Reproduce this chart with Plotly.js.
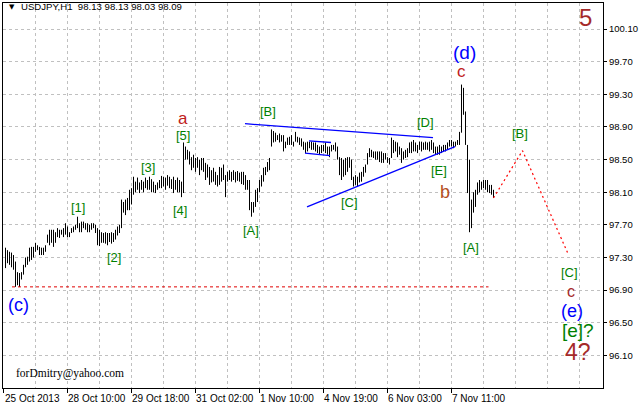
<!DOCTYPE html>
<html>
<head>
<meta charset="utf-8">
<script src="https://cdn.plot.ly/plotly-3.0.1.min.js"></script>
<style>html,body{margin:0;padding:0;background:#fff;}#chart{width:639px;height:404px;}</style>
</head>
<body>
<div id="chart"></div>
<script>
// ---- DATA (USDJPY H1) ----
const symbolTitle = "USDJPY,H1  98.13 98.13 98.03 98.09";
const highs = [
97.42,97.39,97.37,97.36,97.33,97.25,97.12,97.11,97.12,97.21,
97.30,97.31,97.42,97.43,97.43,97.48,97.45,97.43,97.42,97.42,
97.45,97.58,97.64,97.64,97.64,97.61,97.66,97.64,97.64,97.66,
97.72,97.68,97.61,97.66,97.68,97.70,97.80,97.72,97.74,97.74,
97.72,97.72,97.70,97.72,97.72,97.70,97.66,97.64,97.61,97.60,
97.61,97.60,97.60,97.61,97.60,97.64,97.68,97.70,98.01,97.98,
98.01,98.03,98.13,98.15,98.29,98.23,98.28,98.22,98.25,98.23,
98.28,98.25,98.29,98.26,98.23,98.19,98.22,98.25,98.30,98.29,
98.28,98.31,98.29,98.26,98.29,98.25,98.28,98.25,98.23,98.71,
98.66,98.62,98.60,98.53,98.56,98.52,98.53,98.50,98.52,98.52,
98.46,98.44,98.41,98.37,98.40,98.35,98.31,98.41,98.40,98.44,
98.31,98.35,98.37,98.35,98.37,98.35,98.36,98.34,98.35,98.35,
98.31,98.25,98.25,97.98,97.98,98.13,98.15,98.25,98.31,98.40,
98.41,98.47,98.52,98.87,98.85,98.83,98.80,98.82,98.80,98.80,
98.72,98.77,98.78,98.80,98.72,98.84,98.78,98.77,98.76,98.72,
98.71,98.72,98.72,98.72,98.71,98.71,98.68,98.66,98.68,98.68,
98.71,98.66,98.66,98.68,98.68,98.71,98.66,98.53,98.52,98.50,
98.52,98.53,98.53,98.50,98.29,98.31,98.29,98.34,98.35,98.41,
98.44,98.58,98.64,98.62,98.60,98.60,98.60,98.60,98.60,98.58,
98.58,98.53,98.52,98.77,98.74,98.72,98.71,98.66,98.64,98.60,
98.62,98.64,98.71,98.72,98.74,98.71,98.68,98.72,98.72,98.71,
98.72,98.71,98.72,98.74,98.71,98.66,98.66,98.68,98.66,98.68,
98.68,98.71,98.74,98.74,98.72,98.72,98.74,98.84,99.42,99.38,
99.09,98.68,98.50,98.01,98.10,98.13,98.22,98.25,98.23,98.25,
98.25,98.25,98.19,98.19,98.13
];
const lows = [
97.17,97.23,97.21,97.18,97.15,96.94,96.96,96.94,97.03,97.09,
97.18,97.21,97.25,97.27,97.30,97.37,97.39,97.33,97.33,97.33,
97.37,97.48,97.45,97.48,97.43,97.48,97.55,97.54,97.58,97.55,
97.58,97.55,97.55,97.60,97.61,97.64,97.66,97.61,97.61,97.66,
97.64,97.61,97.61,97.64,97.66,97.60,97.45,97.44,97.48,97.48,
97.47,97.45,97.49,97.47,97.49,97.52,97.57,97.60,97.66,97.85,
97.82,97.88,97.88,97.95,98.07,98.10,98.13,98.09,98.13,98.10,
98.15,98.13,98.13,98.10,98.10,98.09,98.13,98.15,98.15,98.17,
98.13,98.18,98.15,98.14,98.09,98.13,98.10,98.10,98.04,98.09,
98.50,98.50,98.44,98.37,98.40,98.35,98.40,98.31,98.37,98.35,
98.25,98.28,98.19,98.22,98.23,98.19,98.17,98.19,98.23,98.25,
98.04,98.23,98.25,98.23,98.25,98.22,98.24,98.23,98.20,98.19,
98.13,98.13,97.88,97.80,97.85,97.92,97.98,98.10,98.17,98.23,
98.31,98.35,98.37,98.66,98.71,98.72,98.74,98.71,98.72,98.60,
98.64,98.68,98.68,98.68,98.66,98.72,98.71,98.68,98.66,98.62,
98.58,98.60,98.64,98.62,98.62,98.60,98.58,98.56,98.58,98.60,
98.58,98.56,98.53,98.60,98.62,98.60,98.50,98.31,98.25,98.29,
98.31,98.35,98.40,98.25,98.17,98.19,98.17,98.22,98.23,98.29,
98.34,98.44,98.53,98.53,98.52,98.50,98.50,98.47,98.46,98.46,
98.50,98.46,98.44,98.52,98.58,98.60,98.53,98.56,98.46,98.50,
98.52,98.53,98.58,98.58,98.60,98.60,98.58,98.62,98.60,98.62,
98.62,98.62,98.60,98.62,98.58,98.56,98.56,98.56,98.58,98.60,
98.60,98.62,98.66,98.66,98.64,98.66,98.68,98.68,98.83,99.05,
98.68,98.09,97.61,97.66,97.85,97.92,98.07,98.10,98.13,98.15,
98.13,98.10,98.09,98.07,98.03
];
// time-axis labels (bar index of each label)
const timeLabelBars = [-1, 31, 63, 95, 127, 159, 191, 223];
const timeLabels = ["25 Oct 2013","28 Oct 10:00","29 Oct 18:00","31 Oct 02:00","1 Nov 10:00","4 Nov 19:00","6 Nov 03:00","7 Nov 11:00"];
const priceTicks = [96.10, 96.50, 96.90, 97.30, 97.70, 98.10, 98.50, 98.90, 99.30, 99.70, 100.10];
// trend lines (bar index, price)
const triUpperBars = [119.75, 213.75], triUpperPrices = [98.94, 98.77];
const triLowerBars = [150.75, 224.75], triLowerPrices = [97.92, 98.66];
const chanUpperBars = [151.75, 162.75], chanUpperPrices = [98.73, 98.71];
const chanLowerBars = [149.75, 162.25], chanLowerPrices = [98.58, 98.55];
const levelBars = [3.25, 241.5], levelPrices = [96.94, 96.94];
const forecastBars = [244, 258.5, 281], forecastPrices = [98.03, 98.61, 97.36];
// wave labels
const waveText = ["(c)","[1]","[2]","[3]","[4]","[5]","a","[A]","[B]","[C]","[D]","[E]","b","(d)","c","[B]","[A]","[C]","c","(e)","[e]?","4?","5"];
const waveBars = [6.25,36.25,54.25,71.25,87.25,88.75,88.75,122.75,131.25,171.75,209.75,216.75,219.75,229.25,227.75,257.25,232.75,281.75,282.75,283.25,286.25,286.25,289.75];
const wavePrices = [96.72,97.91,97.30,98.40,97.88,98.79,99.00,97.63,99.09,97.98,98.95,98.37,98.10,99.81,99.58,98.82,97.42,97.11,96.88,96.64,96.40,96.14,100.24];

// ---- styles ----
const BLUE="#0000ff", GREEN="#008000", DRED="#a52a2a", RED="#c0201a", BROWN="#b5501e";
const waveStyle = [
 [BLUE,18],[GREEN,13],[GREEN,13],[GREEN,13],[GREEN,13],[GREEN,13],[RED,17],[GREEN,13],[GREEN,13],[GREEN,13],[GREEN,13],[GREEN,13],[BROWN,18],
 [BLUE,19],[RED,17],[GREEN,13],[GREEN,13],[GREEN,13],[DRED,16],[BLUE,18],[GREEN,19],[DRED,23],[DRED,24]
];

const bx=[], by=[];
for (let i=0;i<highs.length;i++){ bx.push(i,i,null); by.push(lows[i],highs[i],null); }

const traces = [
 {x:bx,y:by,type:'scatter',mode:'lines',line:{color:'#000',width:1},hoverinfo:'skip'},
 {x:triUpperBars,y:triUpperPrices,type:'scatter',mode:'lines',line:{color:BLUE,width:1.3}},
 {x:triLowerBars,y:triLowerPrices,type:'scatter',mode:'lines',line:{color:BLUE,width:1.3}},
 {x:chanUpperBars,y:chanUpperPrices,type:'scatter',mode:'lines',line:{color:BLUE,width:1.3}},
 {x:chanLowerBars,y:chanLowerPrices,type:'scatter',mode:'lines',line:{color:BLUE,width:1.3}},
 {x:levelBars,y:levelPrices,type:'scatter',mode:'lines',line:{color:'#e00000',width:1,dash:'3px,3px'}},
 {x:forecastBars,y:forecastPrices,type:'scatter',mode:'lines',line:{color:'#ff0000',width:1.2,dash:'2px,3px'}}
];

const F = "Liberation Sans, Arial, sans-serif";
const annotations = waveText.map((t,k)=>({
 x:waveBars[k], y:wavePrices[k], xref:'x', yref:'y', text:t, showarrow:false,
 xanchor:'center', yanchor:'middle', font:{family:F,size:waveStyle[k][1],color:waveStyle[k][0]}
}));
timeLabels.forEach((t,k)=>annotations.push({
 x:Math.max(timeLabelBars[k]-0.6, -1.2), y:-0.0075, xref:'x', yref:'paper', text:t, showarrow:false,
 xanchor:'left', yanchor:'top', font:{family:F,size:10,color:'#000'}
}));
annotations.push({xref:'paper',yref:'paper',x:0.006,y:0.99,xanchor:'left',yanchor:'middle',text:'▼',showarrow:false,font:{family:'DejaVu Sans',size:7,color:'#000'}});
annotations.push({xref:'paper',yref:'paper',x:0.026,y:0.99,xanchor:'left',yanchor:'middle',text:symbolTitle,showarrow:false,font:{family:F,size:9.6,color:'#000'}});
annotations.push({xref:'paper',yref:'paper',x:0.018,y:0.038,xanchor:'left',yanchor:'middle',text:'forDmitry@yahoo.com',showarrow:false,font:{family:'Liberation Serif, Times New Roman, serif',size:11.5,color:'#000'}});

const layout = {
 width:639, height:404, margin:{l:3,r:36,t:3,b:16}, paper_bgcolor:'#fff', plot_bgcolor:'#fff',
 showlegend:false,
 xaxis:{range:[-1.25,298.75], tickmode:'array', tickvals:timeLabelBars, showticklabels:false,
  ticks:'outside', ticklen:4, tickcolor:'#000',
  showgrid:false, zeroline:false, showline:true, linecolor:'#000', linewidth:1, mirror:true,
  minor:{tick0:15, dtick:16, showgrid:true, gridcolor:'#c0c0c0', griddash:'3px,3px', gridwidth:1, ticks:''}},
 yaxis:{range:[95.70,100.42], side:'right', tickmode:'array', tickvals:priceTicks, tickformat:'.2f',
  ticks:'outside', ticklen:3, tickcolor:'#000', showgrid:true, gridcolor:'#c0c0c0', griddash:'3px,3px',
  zeroline:false, showline:true, linecolor:'#000', linewidth:1, mirror:true,
  tickfont:{family:F,size:9.5,color:'#000'}},
 annotations:annotations
};
Plotly.newPlot('chart', traces, layout, {staticPlot:true, displayModeBar:false});
</script>
</body>
</html>
